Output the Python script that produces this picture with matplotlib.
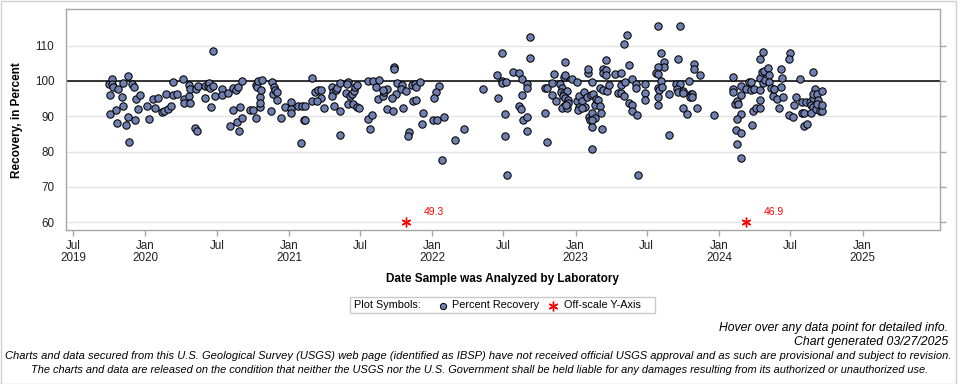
import numpy as np
import matplotlib
matplotlib.use("Agg")
import matplotlib.pyplot as plt
from matplotlib.patches import Rectangle
from matplotlib.lines import Line2D
from matplotlib import font_manager

plt.rcParams['font.family'] = ['Liberation Sans', 'DejaVu Sans']

# ---------------- data (decimal year of analysis, percent recovery) ----------------
campaign_2019_2022 = [
    (2019.745, 99.1), (2019.752, 95.9), (2019.768, 100.5), (2019.768, 99.2), (2019.775, 98.2),
    (2019.752, 90.6), (2019.791, 91.7), (2019.803, 88.0), (2019.805, 97.6),
    (2019.838, 95.6), (2019.845, 99.3), (2019.845, 92.9), (2019.863, 87.5), (2019.880, 101.5),
    (2019.887, 82.6), (2019.880, 89.7), (2019.903, 99.1), (2019.921, 98.2), (2019.926, 89.0),
    (2019.935, 94.8), (2019.949, 92.0), (2019.963, 95.9),
    (2020.012, 92.9), (2020.026, 89.2), (2020.054, 94.8), (2020.068, 92.3), (2020.089, 95.1),
    (2020.112, 91.3), (2020.128, 91.5), (2020.145, 96.2), (2020.159, 92.1), (2020.175, 92.8),
    (2020.191, 99.6), (2020.193, 95.9), (2020.217, 96.2),
    (2020.263, 100.5), (2020.270, 94.8), (2020.270, 93.7), (2020.300, 98.9), (2020.303, 95.7),
    (2020.307, 97.7), (2020.310, 93.8), (2020.347, 86.7), (2020.361, 85.8), (2020.354, 97.6),
    (2020.368, 98.6), (2020.412, 98.6), (2020.417, 95.2), (2020.435, 98.6), (2020.442, 99.4),
    (2020.447, 98.1), (2020.456, 92.6), (2020.472, 98.6), (2020.472, 108.4), (2020.482, 95.7),
    (2020.535, 97.6), (2020.535, 95.9), (2020.577, 96.5), (2020.591, 87.3), (2020.607, 97.9),
    (2020.612, 91.7), (2020.630, 97.5), (2020.635, 88.4), (2020.647, 98.2), (2020.654, 85.8),
    (2020.661, 92.5), (2020.670, 89.4), (2020.675, 99.9),
    (2020.728, 91.7), (2020.751, 91.7), (2020.768, 98.9), (2020.770, 89.4), (2020.775, 98.2),
    (2020.786, 99.9), (2020.798, 92.5), (2020.800, 95.6), (2020.807, 97.5), (2020.802, 93.7),
    (2020.814, 100.2),
    (2020.879, 99.7), (2020.886, 96.2), (2020.895, 98.2), (2020.905, 97.5), (2020.914, 96.8),
    (2020.919, 94.5), (2020.877, 91.5), (2020.946, 89.4),
    (2020.972, 92.5), (2021.018, 94.1), (2021.018, 92.1), (2021.016, 90.8), (2021.065, 92.9),
    (2021.086, 82.4), (2021.088, 92.9), (2021.105, 89.0),
    (2021.112, 92.9), (2021.112, 89.0), (2021.163, 100.9), (2021.181, 97.0), (2021.205, 97.5),
    (2021.223, 97.5), (2021.223, 95.1), (2021.163, 94.2), (2021.195, 94.2), (2021.246, 92.4),
    (2021.302, 98.4), (2021.307, 97.0), (2021.302, 95.7), (2021.316, 92.8), (2021.328, 97.5),
    (2021.337, 97.9), (2021.356, 99.3), (2021.358, 91.6), (2021.358, 84.6),
    (2021.395, 96.5), (2021.414, 99.8), (2021.402, 99.1), (2021.423, 95.8), (2021.437, 96.2),
    (2021.451, 97.3), (2021.460, 98.4), (2021.477, 98.9), (2021.414, 93.5), (2021.446, 93.5),
    (2021.472, 92.7), (2021.488, 92.3),
    (2021.553, 99.9), (2021.588, 99.9), (2021.630, 100.3), (2021.609, 98.2), (2021.623, 94.8),
    (2021.653, 95.8), (2021.665, 97.0), (2021.686, 97.7), (2021.658, 97.5), (2021.553, 89.2),
    (2021.583, 90.3), (2021.567, 86.3),
    (2021.735, 104.1), (2021.735, 103.3), (2021.753, 99.3), (2021.786, 98.9), (2021.781, 97.6),
    (2021.816, 97.2), (2021.748, 96.3), (2021.721, 95.1), (2021.686, 92.0), (2021.728, 91.5),
    (2021.797, 92.4), (2021.837, 85.6), (2021.832, 84.3),
    (2021.860, 98.9), (2021.881, 99.2), (2021.886, 98.4), (2021.869, 94.3), (2021.883, 94.6),
    (2021.916, 99.6), (2021.937, 90.9), (2021.930, 87.7), (2022.048, 98.6), (2022.027, 96.9),
    (2022.013, 95.1), (2022.006, 89.0), (2022.030, 89.0), (2022.081, 89.7), (2022.069, 77.6),
    (2022.160, 83.3), (2022.220, 86.3),
]

campaign_2022_2023 = [
    (2022.355, 97.7), (2022.485, 107.8), (2022.453, 101.7), (2022.485, 100.0), (2022.485, 99.3),
    (2022.511, 99.6), (2022.460, 95.1), (2022.509, 90.6), (2022.509, 84.3), (2022.523, 73.3),
    (2022.564, 102.5),
    (2022.606, 102.2), (2022.623, 100.5), (2022.662, 99.1), (2022.662, 98.1), (2022.623, 95.9),
    (2022.606, 92.9), (2022.618, 92.0), (2022.634, 89.0), (2022.664, 89.7), (2022.662, 85.8),
    (2022.681, 112.4), (2022.681, 106.4),
    (2022.788, 90.8), (2022.797, 82.6), (2022.785, 97.9), (2022.801, 97.9), (2022.850, 101.9),
    (2022.836, 99.5), (2022.836, 95.9), (2022.862, 94.4), (2022.925, 105.3),
    (2022.894, 99.2), (2022.902, 97.9), (2022.897, 97.0), (2022.918, 96.7), (2022.941, 97.2),
    (2022.913, 95.8), (2022.925, 95.1), (2022.943, 94.6), (2022.948, 93.7), (2022.920, 92.9),
    (2022.906, 92.3), (2022.941, 92.3), (2022.936, 93.2), (2022.918, 101.0), (2022.925, 101.7),
    (2022.971, 100.5), (2023.011, 99.8),
    (2023.006, 94.2), (2023.025, 95.8), (2023.041, 94.2), (2023.025, 92.7), (2023.018, 91.8),
    (2023.060, 97.0), (2023.064, 92.5), (2023.041, 92.3), (2023.076, 95.4), (2023.083, 102.2),
    (2023.083, 103.3), (2023.092, 89.9), (2023.099, 89.0), (2023.115, 99.8), (2023.106, 96.0),
    (2023.118, 96.3), (2023.134, 93.2), (2023.145, 94.9), (2023.157, 94.6), (2023.169, 92.9),
    (2023.115, 90.8), (2023.134, 89.4), (2023.111, 89.0), (2023.115, 86.9), (2023.115, 80.7),
    (2023.185, 86.3), (2023.176, 90.8),
    (2023.192, 103.3), (2023.192, 102.2), (2023.213, 105.9), (2023.213, 103.1), (2023.213, 101.7),
    (2023.171, 97.9), (2023.192, 97.5), (2023.215, 97.3), (2023.234, 98.9), (2023.273, 102.0),
    (2023.313, 102.2), (2023.292, 96.5),
    (2023.355, 113.0), (2023.338, 110.4), (2023.373, 104.5), (2023.315, 98.9), (2023.315, 96.7),
    (2023.343, 99.6), (2023.390, 100.5), (2023.338, 95.8), (2023.373, 93.9), (2023.390, 93.1),
    (2023.390, 91.6), (2023.429, 90.4), (2023.436, 73.3), (2023.424, 99.2), (2023.424, 98.1),
    (2023.485, 99.2), (2023.485, 96.5), (2023.485, 94.6),
    (2023.576, 115.6), (2023.596, 107.8), (2023.615, 105.3), (2023.615, 104.0), (2023.576, 103.9),
    (2023.559, 102.2), (2023.576, 101.9), (2023.596, 100.0), (2023.576, 97.9), (2023.583, 97.5),
    (2023.599, 98.4), (2023.576, 95.6), (2023.576, 93.1), (2023.652, 96.3), (2023.652, 84.6),
    (2023.729, 115.6), (2023.715, 106.1), (2023.703, 99.1), (2023.729, 99.1), (2023.708, 97.7),
    (2023.715, 97.0), (2023.750, 97.3), (2023.750, 96.5), (2023.792, 99.9), (2023.827, 104.8),
    (2023.827, 103.5), (2023.866, 101.7), (2023.803, 96.3), (2023.813, 96.3), (2023.796, 95.4),
    (2023.813, 95.4), (2023.750, 92.3), (2023.778, 90.6), (2023.847, 92.3), (2023.966, 90.3),
]

campaign_2024 = [
    (2024.099, 101.0), (2024.099, 97.7), (2024.099, 96.8), (2024.110, 93.5), (2024.126, 94.2),
    (2024.133, 93.4), (2024.152, 90.6), (2024.126, 89.2), (2024.115, 86.1), (2024.152, 85.2),
    (2024.126, 82.1), (2024.152, 78.1), (2024.152, 98.6), (2024.152, 95.9),
    (2024.187, 97.7), (2024.208, 99.6), (2024.226, 99.8), (2024.222, 97.5), (2024.245, 97.7),
    (2024.231, 87.5), (2024.240, 91.6), (2024.259, 92.3), (2024.287, 92.3), (2024.285, 94.5),
    (2024.285, 97.5), (2024.285, 100.8), (2024.285, 106.3), (2024.308, 108.1), (2024.296, 102.6),
    (2024.315, 102.9), (2024.308, 99.3), (2024.319, 100.3), (2024.343, 103.6), (2024.350, 101.7),
    (2024.350, 99.6), (2024.361, 97.9), (2024.377, 95.8), (2024.382, 97.7), (2024.405, 94.8),
    (2024.419, 92.3), (2024.429, 103.3), (2024.429, 98.4), (2024.440, 100.8), (2024.447, 95.4),
    (2024.494, 107.8), (2024.489, 106.1), (2024.489, 90.3), (2024.517, 89.9), (2024.524, 93.1),
    (2024.536, 95.4), (2024.566, 100.5), (2024.575, 94.1), (2024.575, 90.8), (2024.591, 90.8),
    (2024.591, 87.3), (2024.615, 87.7), (2024.605, 94.1), (2024.633, 94.1), (2024.640, 93.1),
    (2024.656, 92.7), (2024.638, 90.8), (2024.656, 102.5), (2024.656, 95.3), (2024.670, 97.7),
    (2024.656, 96.3), (2024.680, 96.3), (2024.687, 94.6), (2024.715, 97.2), (2024.673, 92.2),
    (2024.703, 91.5), (2024.715, 91.5), (2024.680, 93.4), (2024.715, 93.2),
]

offscale_time = [2021.816, 2024.187]
offscale_value = [49.3, 46.9]
offscale_plot_level = 60

reference_level = 100
y_ticks = [60, 70, 80, 90, 100, 110]
x_tick_dates = ['2019-07-01', '2020-01-01', '2020-07-01', '2021-01-01', '2021-07-01',
                '2022-01-01', '2022-07-01', '2023-01-01', '2023-07-01', '2024-01-01',
                '2024-07-01', '2025-01-01']
x_tick_labels = ['Jul\n2019', 'Jan\n2020', 'Jul', 'Jan\n2021', 'Jul', 'Jan\n2022', 'Jul',
                 'Jan\n2023', 'Jul', 'Jan\n2024', 'Jul', 'Jan\n2025']

# ---------------- helpers ----------------
W, H = 960, 384


def yr2date(y):
    y = np.asarray(y, float)
    base = np.datetime64('2019-01-01T00:00')
    return base + np.round((y - 2019.0) * 365.25 * 24 * 60).astype('timedelta64[m]')


def fx(x):
    return x / W


def fy(y):
    return 1 - y / H


fig = plt.figure(figsize=(W / 100, H / 100), dpi=100)
fig.patch.set_facecolor('white')

left, right, top, bottom = 65.7, 940.0, 9.3, 230.0
ax = fig.add_axes([fx(left), fy(bottom), (right - left) / W, (bottom - top) / H])

ax.set_xlim(np.datetime64('2019-06-12'), np.datetime64('2025-07-17'))
ax.set_ylim(57.8, 120.3)

ax.set_yticks(y_ticks)
ax.set_yticklabels([str(v) for v in y_ticks])
ax.yaxis.grid(True, color='#e4e4e4', lw=1.0)
ax.set_axisbelow(True)

ax.set_xticks(np.array(x_tick_dates, dtype='datetime64[D]'))
ax.set_xticklabels(x_tick_labels, linespacing=1.0)

for sp in ax.spines.values():
    sp.set_color('#a6a6a6')
    sp.set_linewidth(1.0)

ax.tick_params(axis='y', left=False, right=True, labelleft=True, labelright=False,
               length=4.3, width=1.0, color='#a6a6a6', pad=4.0, labelsize=8.4,
               labelcolor='#222222')
ax.tick_params(axis='x', length=4.3, width=1.0, color='#a6a6a6', pad=3.0, labelsize=8.4,
               labelcolor='#222222')

ax.axhline(reference_level, color='black', lw=1.1, zorder=2)

for camp in (campaign_2019_2022, campaign_2022_2023, campaign_2024):
    t = [p[0] for p in camp]
    v = [p[1] for p in camp]
    ax.plot(yr2date(t), v, ls='none', marker='o', ms=5.3, mfc='#6f7fb0', mec='black',
            mew=0.75, zorder=3)

ax.plot(yr2date(offscale_time), [offscale_plot_level] * len(offscale_time), ls='none',
        marker=(6, 2, 0), ms=7, color='red', mew=1.0, zorder=4)
for t, v in zip(yr2date(offscale_time), offscale_value):
    ax.annotate(f'{v:.1f}', (t, offscale_plot_level), xytext=(18, 10.5),
                textcoords='offset pixels', ha='left', va='center', color='red',
                fontsize=7.5)

# axis titles
fig.text(fx(17.5), fy(119.7), 'Recovery, in Percent', rotation=90, ha='center',
         va='center', fontsize=8.5, fontweight='bold', color='black')
fig.text(fx(502.9), fy(279), 'Date Sample was Analyzed by Laboratory', ha='center',
         va='center', fontsize=8.5, fontweight='bold', color='black')

# legend box
fig.add_artist(Rectangle((fx(350), fy(312.7)), (655 - 350) / W, (312.7 - 297.3) / H,
                         transform=fig.transFigure, fill=False, edgecolor='#c8c8c8', lw=1.0))
fig.text(fx(354), fy(305), 'Plot Symbols:', ha='left', va='center', fontsize=7.8)
fig.add_artist(Line2D([fx(442.7)], [fy(305.5)], transform=fig.transFigure, ls='none',
                      marker='o', ms=4.5, mfc='#6f7fb0', mec='black', mew=0.7))
fig.text(fx(452.3), fy(305), 'Percent Recovery', ha='left', va='center', fontsize=7.8)
fig.add_artist(Line2D([fx(552.7)], [fy(306)], transform=fig.transFigure, ls='none',
                      marker=(6, 2, 0), ms=7, color='red', mew=1.0))
fig.text(fx(564), fy(305), 'Off-scale Y-Axis', ha='left', va='center', fontsize=7.8)

# footer
narrow = None
for name in ['Liberation Sans Narrow', 'Arial Narrow']:
    try:
        font_manager.findfont(name, fallback_to_default=False)
        narrow = name
        break
    except Exception:
        pass
foot_family = [narrow, 'Liberation Sans', 'DejaVu Sans'] if narrow else ['Liberation Sans', 'DejaVu Sans']

footer_lines = [
    ('Hover over any data point for detailed info.', 'right', 948, 328, 229),
    ('Chart generated 03/27/2025', 'right', 948, 342, 155),
    ('Charts and data secured from this U.S. Geological Survey (USGS) web page (identified as IBSP) '
     'have not received official USGS approval and as such are provisional and subject to revision.',
     'center', 478.5, 356, 943),
    ('The charts and data are released on the condition that neither the USGS nor the U.S. '
     'Government shall be held liable for any damages resulting from its authorized or unauthorized use.',
     'center', 479.5, 370, 903),
]
texts = []
for s, ha, x, y, w in footer_lines:
    t = fig.text(fx(x), fy(y), s, ha=ha, va='center', fontsize=9, style='italic',
                 family=foot_family, color='black')
    texts.append((t, w))
fig.canvas.draw()
r = fig.canvas.get_renderer()
for t, w in texts:
    cur = t.get_window_extent(r).width
    t.set_fontsize(t.get_fontsize() * w / cur)

# outer frame
fig.add_artist(Rectangle((fx(0.5), fy(383.5)), 955 / W, 383 / H, transform=fig.transFigure,
                         fill=False, edgecolor='#d0d0d0', lw=1.0))

fig.savefig('out.png', dpi=100, facecolor='white')
